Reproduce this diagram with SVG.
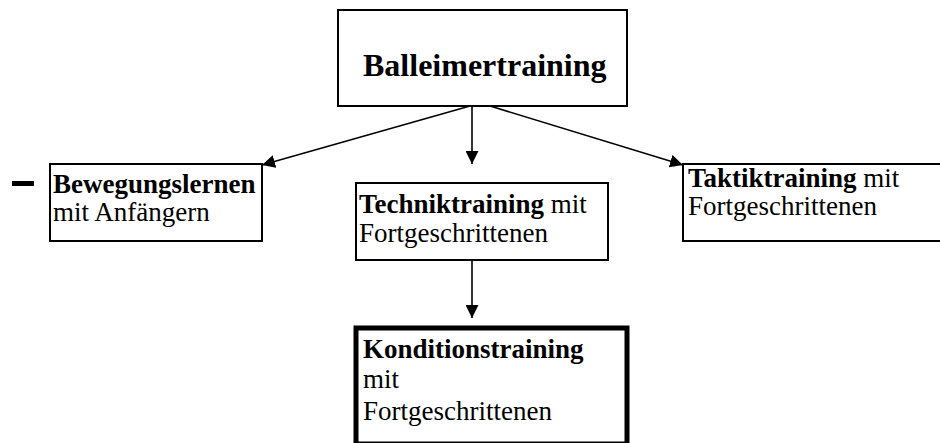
<svg xmlns="http://www.w3.org/2000/svg" width="940" height="443" viewBox="0 0 940 443">
<style>
.box{fill:#fff;stroke:#000;stroke-width:2}
.thick{fill:#fff;stroke:#000;stroke-width:5}
.t{font-family:"Liberation Serif","Times New Roman",serif;font-size:27px;fill:#000}
.b{font-weight:bold}
.title{font-family:"Liberation Serif","Times New Roman",serif;font-size:32px;font-weight:bold;fill:#000}
.con{stroke:#000;stroke-width:1.6;fill:none;marker-end:url(#arr)}
</style>
<defs>
<marker id="arr" markerUnits="userSpaceOnUse" markerWidth="13" markerHeight="13" refX="13" refY="6.5" orient="auto" viewBox="0 0 13 13">
<path d="M0,0 L13,6.5 L0,13 z" fill="#000"/>
</marker>
</defs>
<rect x="0" y="0" width="940" height="443" fill="#fff"/>
<g id="connectors">
<line class="con" x1="470" y1="106" x2="262" y2="165"/>
<line class="con" x1="472" y1="106" x2="472" y2="164"/>
<line class="con" x1="490" y1="106" x2="683" y2="165"/>
<line class="con" x1="472" y1="261" x2="472" y2="318"/>
</g>
<g id="node-balleimertraining">
<rect class="box" x="338" y="10" width="289" height="96"/>
<text class="title" x="363" y="76">Balleimertraining</text>
</g>
<g id="dash">
<rect x="12" y="181" width="22" height="5" fill="#000"/>
</g>
<g id="node-bewegungslernen">
<rect class="box" x="50" y="164" width="212" height="77"/>
<text class="t" x="53" y="193"><tspan class="b">Bewegungslernen</tspan></text>
<text class="t" x="53" y="221">mit Anfängern</text>
</g>
<g id="node-techniktraining">
<rect class="box" x="356" y="183" width="252" height="77"/>
<text class="t" x="359" y="213"><tspan class="b">Techniktraining</tspan> mit</text>
<text class="t" x="359" y="242">Fortgeschrittenen</text>
</g>
<g id="node-taktiktraining">
<rect class="box" x="683" y="164" width="262" height="77"/>
<text class="t" x="688" y="187"><tspan class="b">Taktiktraining</tspan> mit</text>
<text class="t" x="688" y="215">Fortgeschrittenen</text>
</g>
<g id="node-konditionstraining">
<rect class="thick" x="356" y="328" width="271" height="116"/>
<text class="t b" x="363" y="358">Konditionstraining</text>
<text class="t" x="363" y="388">mit</text>
<text class="t" x="363" y="420">Fortgeschrittenen</text>
</g>
</svg>
